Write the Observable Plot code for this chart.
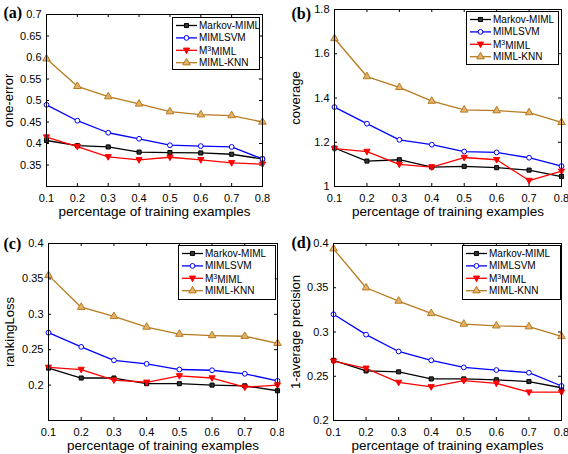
<!DOCTYPE html>
<html>
<head>
<meta charset="utf-8">
<script src="https://cdn.jsdelivr.net/npm/d3@7"></script>
<script src="https://cdn.jsdelivr.net/npm/@observablehq/plot@0.6"></script>
<style>
  body { margin: 0; background: #fff; }
  #chart { position: relative; width: 568px; height: 454px; background: #fff; }
  #chart svg { position: absolute; }
</style>
</head>
<body>
<div id="chart"></div>
<script>
// ---- data ----
const trainPct = [0.1, 0.2, 0.3, 0.4, 0.5, 0.6, 0.7, 0.8];
const seriesNames = ["Markov-MIML", "MIMLSVM", "M3MIML", "MIML-KNN"];

const oneErrorMarkov = [0.407, 0.395, 0.392, 0.380, 0.379, 0.378, 0.375, 0.364];
const oneErrorSVM    = [0.490, 0.453, 0.425, 0.411, 0.396, 0.394, 0.392, 0.364];
const oneErrorM3     = [0.415, 0.393, 0.369, 0.362, 0.368, 0.362, 0.355, 0.352];
const oneErrorKNN    = [0.597, 0.533, 0.509, 0.492, 0.474, 0.467, 0.465, 0.450];

const coverageMarkov = [1.174, 1.115, 1.121, 1.088, 1.091, 1.085, 1.074, 1.045];
const coverageSVM    = [1.359, 1.284, 1.211, 1.189, 1.158, 1.154, 1.130, 1.092];
const coverageM3     = [1.171, 1.158, 1.100, 1.088, 1.131, 1.121, 1.027, 1.069];
const coverageKNN    = [1.669, 1.497, 1.448, 1.386, 1.346, 1.343, 1.334, 1.290];

const rankLossMarkov = [0.224, 0.210, 0.210, 0.202, 0.202, 0.200, 0.199, 0.192];
const rankLossSVM    = [0.274, 0.254, 0.235, 0.230, 0.222, 0.221, 0.216, 0.206];
const rankLossM3     = [0.225, 0.222, 0.207, 0.204, 0.213, 0.210, 0.197, 0.200];
const rankLossKNN    = [0.355, 0.310, 0.297, 0.282, 0.272, 0.270, 0.269, 0.259];

const avgPrecMarkov  = [0.268, 0.256, 0.255, 0.247, 0.247, 0.246, 0.244, 0.237];
const avgPrecSVM     = [0.320, 0.297, 0.278, 0.268, 0.260, 0.257, 0.254, 0.239];
const avgPrecM3      = [0.267, 0.259, 0.243, 0.238, 0.245, 0.242, 0.232, 0.232];
const avgPrecKNN     = [0.394, 0.350, 0.335, 0.321, 0.309, 0.307, 0.306, 0.295];

const xLabel = "percentage of training examples";
const xTicks = [0.1, 0.2, 0.3, 0.4, 0.5, 0.6, 0.7, 0.8];

// ---- styles ----
const triangleDown = {
  draw(context, size) {
    const h = Math.sqrt(size) * 0.9;
    context.moveTo(0, h * 0.75);
    context.lineTo(h * 0.68, -h * 0.5);
    context.lineTo(-h * 0.68, -h * 0.5);
    context.closePath();
  }
};
const seriesStyle = [
  {stroke: "#000000", fill: "#333333", symbol: d3.symbolSquare, r: 2.3},
  {stroke: "#0000ff", fill: "#ffffff", symbol: d3.symbolCircle, r: 2.4},
  {stroke: "#ff0000", fill: "#ff0000", symbol: triangleDown, r: 2.8},
  {stroke: "#b87a1e", fill: "#e2b26a", symbol: d3.symbolTriangle, r: 2.8}
];

const panels = [
  {letter: "(a)", ylabel: "one-error", domain: [0.3, 0.7], ticks: [0.35, 0.4, 0.45, 0.5, 0.55, 0.6, 0.65, 0.7],
   values: [oneErrorMarkov, oneErrorSVM, oneErrorM3, oneErrorKNN],
   pos: [0, 0], m: [14, 22, 41, 46], legend: [172, 17, 87, 52], letterOff: [-43, -2], ylabDx: -38},
  {letter: "(b)", ylabel: "coverage", domain: [1, 1.8], ticks: [1, 1.2, 1.4, 1.6, 1.8],
   values: [coverageMarkov, coverageSVM, coverageM3, coverageKNN],
   pos: [284, 0], m: [9, 7, 41, 50], legend: [182, 11, 92, 53], letterOff: [-43, 4], ylabDx: -39},
  {letter: "(c)", ylabel: "rankingLoss", domain: [0.15, 0.4], ticks: [0.2, 0.25, 0.3, 0.35, 0.4],
   values: [rankLossMarkov, rankLossSVM, rankLossM3, rankLossKNN],
   pos: [0, 227], m: [16, 7, 34, 48], legend: [178, 18, 97, 54], letterOff: [-45, 0], ylabDx: -39},
  {letter: "(d)", ylabel: "1-average precision", domain: [0.2, 0.4], ticks: [0.2, 0.25, 0.3, 0.35, 0.4],
   values: [avgPrecMarkov, avgPrecSVM, avgPrecM3, avgPrecKNN],
   pos: [284, 227], m: [16, 7, 34, 49], legend: [178, 18, 98, 54], letterOff: [-42, -1], ylabDx: -38}
];

const W = 284, H = 227;
const container = document.getElementById("chart");
const fmt = d => String(d);

for (const p of panels) {
  const [mt, mr, mb, ml] = p.m;
  const fw = W - ml - mr, fh = H - mt - mb;
  const rows = [];
  seriesNames.forEach((s, si) => {
    trainPct.forEach((x, i) => rows.push({series: s, si, x, y: p.values[si][i]}));
  });

  const marks = [
    // inward ticks on all four sides
    Plot.tickX(xTicks, {x: d => d, stroke: "black", insetTop: fh - 3}),
    Plot.tickX(xTicks, {x: d => d, stroke: "black", insetBottom: fh - 3}),
    Plot.tickY(p.ticks, {y: d => d, stroke: "black", insetRight: fw - 3}),
    Plot.tickY(p.ticks, {y: d => d, stroke: "black", insetLeft: fw - 3}),
    Plot.axisX({ticks: xTicks, tickSize: 0, tickPadding: 8, label: null, fontSize: 11, tickFormat: fmt}),
    Plot.axisY({ticks: p.ticks, tickSize: 0, tickPadding: 5, label: null, fontSize: 11, tickFormat: fmt}),
  ];
  seriesNames.forEach((s, si) => {
    const st = seriesStyle[si];
    const d = rows.filter(r => r.si === si);
    marks.push(Plot.line(d, {x: "x", y: "y", stroke: st.stroke, strokeWidth: 1.3}));
  });
  seriesNames.forEach((s, si) => {
    const st = seriesStyle[si];
    const d = rows.filter(r => r.si === si);
    marks.push(Plot.dot(d, {x: "x", y: "y", stroke: st.stroke, fill: st.fill, symbol: st.symbol, r: st.r, strokeWidth: 1}));
  });
  marks.push(Plot.frame({stroke: "black", strokeWidth: 1}));
  marks.push(Plot.text([xLabel], {frameAnchor: "bottom", dy: 25, lineAnchor: "middle", fontSize: 13.5, text: d => d}));
  marks.push(Plot.text([p.ylabel], {frameAnchor: "left", dx: p.ylabDx, rotate: -90, textAnchor: "middle", lineAnchor: "middle", fontSize: 13, text: d => d}));
  marks.push(Plot.text([p.letter], {frameAnchor: "top-left", dx: p.letterOff[0], dy: p.letterOff[1], textAnchor: "start", lineAnchor: "middle",
    fontSize: 16, fontWeight: "bold", fontFamily: "Liberation Serif", text: d => d}));

  const svg = Plot.plot({
    width: W, height: H,
    marginTop: mt, marginRight: mr, marginBottom: mb, marginLeft: ml,
    x: {domain: [0.1, 0.8]},
    y: {domain: p.domain},
    style: {fontFamily: "'Liberation Sans', Arial, sans-serif", fontSize: "11px", background: "white", color: "black", overflow: "visible"},
    marks
  });
  svg.style.left = p.pos[0] + "px";
  svg.style.top = p.pos[1] + "px";
  container.appendChild(svg);

  // legend (inside the axes, top right)
  const [lx, ly, lw, lh] = p.legend;
  const g = d3.select(svg).append("g").attr("transform", `translate(${lx},${ly})`);
  g.append("rect").attr("x", 0.5).attr("y", 0.5).attr("width", lw).attr("height", lh)
    .attr("fill", "white").attr("stroke", "black").attr("stroke-width", 1);
  seriesNames.forEach((s, si) => {
    const st = seriesStyle[si];
    const yy = 8.5 + si * 12.4;
    g.append("line").attr("x1", 4).attr("x2", 25).attr("y1", yy).attr("y2", yy)
      .attr("stroke", st.stroke).attr("stroke-width", 1.3);
    g.append("path").attr("transform", `translate(14.5,${yy})`)
      .attr("d", d3.symbol(st.symbol, Math.PI * st.r * st.r)())
      .attr("stroke", st.stroke).attr("fill", st.fill).attr("stroke-width", 1);
    const t = g.append("text").attr("x", 27).attr("y", yy).attr("dy", "0.35em")
      .attr("text-anchor", "start")
      .attr("font-size", 10).attr("font-family", "'Liberation Sans', Arial, sans-serif").attr("fill", "black");
    if (s === "M3MIML") {
      t.append("tspan").text("M");
      t.append("tspan").attr("dy", "-0.45em").attr("font-size", 7).text("3");
      t.append("tspan").attr("dy", "0.45em").text("MIML");
    } else {
      t.text(s);
    }
  });
}
</script>
</body>
</html>
